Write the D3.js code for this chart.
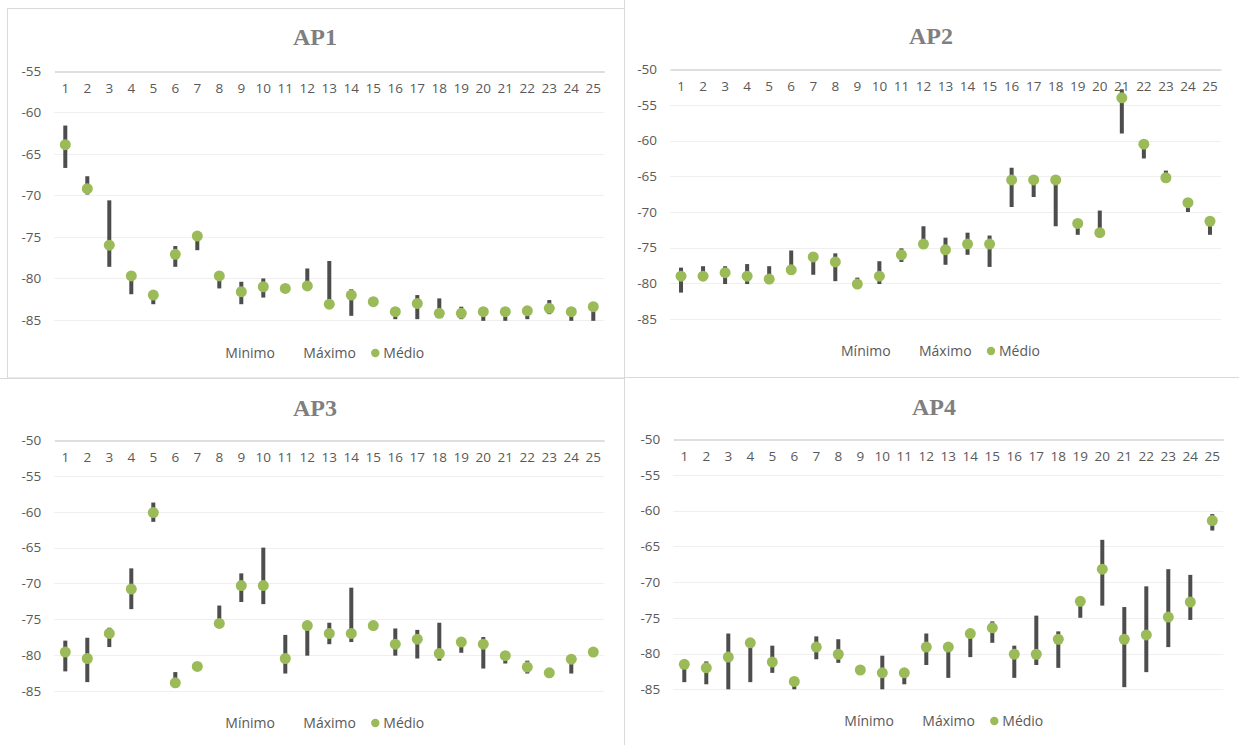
<!DOCTYPE html>
<html>
<head>
<meta charset="utf-8">
<script src="https://cdn.jsdelivr.net/npm/d3@7"></script>
<style>
  html, body { margin: 0; padding: 0; background: #ffffff; }
  svg { display: block; }
  .tick text { font-family: "Open Sans", sans-serif; font-size: 13.5px; fill: #595959; }
  .legend text { font-family: "Open Sans", sans-serif; font-size: 14px; fill: #595959; }
  .title { font-family: "Liberation Serif", serif; font-weight: bold; font-size: 24px; fill: #7f7f7f; }
</style>
</head>
<body>
<svg id="chart" width="1239" height="745"></svg>
<script>
// Access points 1..25 on the horizontal axis
const categories = [1, 2, 3, 4, 5, 6, 7, 8, 9, 10, 11, 12, 13, 14, 15, 16, 17, 18, 19, 20, 21, 22, 23, 24, 25];

// Y tick labels (dBm)
const ticksAP1 = [-55, -60, -65, -70, -75, -80, -85];
const ticksAP = [-50, -55, -60, -65, -70, -75, -80, -85];

// AP1
const ap1Min  = [-66.7, -69.9, -78.6, -81.9, -83.1, -78.6, -76.6, -81.2, -83.1, -82.3, -81.4, -81.1, -83.3, -84.5, -83.0, -84.9, -84.9, -84.4, -84.9, -85.1, -85.1, -84.9, -84.3, -85.1, -85.1];
const ap1Max  = [-61.6, -67.7, -70.6, -79.5, -81.8, -76.1, -75.0, -79.5, -80.4, -80.0, -81.0, -78.8, -77.9, -81.3, -82.6, -83.8, -82.0, -82.4, -83.4, -83.8, -83.8, -83.7, -82.6, -83.8, -83.2];
const ap1Mean = [-63.9, -69.2, -76.0, -79.7, -82.0, -77.1, -74.9, -79.7, -81.6, -81.0, -81.2, -80.9, -83.1, -82.0, -82.8, -84.0, -83.0, -84.2, -84.2, -84.0, -84.0, -83.9, -83.6, -84.0, -83.4];

// AP2
const ap2Min  = [-81.3, -79.3, -80.1, -80.1, -80.1, -78.3, -78.8, -79.7, -80.3, -80.1, -77.0, -74.7, -77.4, -76.0, -77.7, -69.3, -67.9, -72.0, -73.2, -73.1, -59.0, -62.5, -65.4, -70.0, -73.2];
const ap2Max  = [-77.8, -77.6, -77.6, -77.3, -77.6, -75.4, -76.0, -75.8, -79.2, -76.9, -75.1, -72.0, -73.6, -72.9, -73.3, -63.8, -65.3, -65.3, -71.4, -69.8, -52.8, -60.3, -64.2, -68.5, -71.1];
const ap2Mean = [-79.0, -79.0, -78.5, -79.0, -79.4, -78.1, -76.3, -77.0, -80.1, -79.0, -76.0, -74.5, -75.3, -74.5, -74.5, -65.5, -65.5, -65.5, -71.6, -72.9, -54.0, -60.5, -65.2, -68.7, -71.3];

// AP3
const ap3Min  = [-82.3, -83.8, -78.9, -73.6, -61.4, -84.1, -81.8, -75.8, -72.6, -72.9, -82.6, -80.1, -78.5, -78.2, -76.1, -80.1, -80.5, -80.8, -79.7, -81.9, -81.2, -82.6, -82.7, -82.6, -79.8];
const ap3Max  = [-78.0, -77.6, -76.2, -67.9, -58.7, -82.4, -81.4, -73.1, -68.6, -65.0, -77.2, -75.7, -75.5, -70.6, -75.7, -76.3, -76.5, -75.5, -78.0, -77.5, -79.9, -80.8, -82.3, -80.4, -79.4];
const ap3Mean = [-79.6, -80.5, -77.0, -70.8, -60.1, -83.9, -81.6, -75.6, -70.3, -70.3, -80.5, -75.9, -77.0, -77.0, -75.9, -78.5, -77.8, -79.8, -78.2, -78.5, -80.1, -81.7, -82.5, -80.6, -79.6];

// AP4
const ap4Min  = [-84.0, -84.3, -85.0, -84.0, -82.7, -85.0, -80.8, -81.3, -82.5, -85.0, -84.3, -81.6, -83.4, -80.5, -78.5, -83.4, -81.6, -82.0, -75.0, -73.3, -84.7, -82.6, -79.1, -75.3, -62.8];
const ap4Max  = [-81.3, -81.1, -77.2, -78.3, -78.9, -83.7, -77.6, -78.0, -82.1, -80.3, -82.5, -77.2, -78.9, -77.0, -75.5, -78.9, -74.7, -76.9, -72.5, -64.1, -73.5, -70.6, -68.2, -69.0, -60.5];
const ap4Mean = [-81.5, -82.0, -80.5, -78.5, -81.2, -83.9, -79.1, -80.1, -82.3, -82.7, -82.7, -79.1, -79.1, -77.2, -76.4, -80.1, -80.1, -78.0, -72.7, -68.2, -78.0, -77.4, -74.9, -72.8, -61.4];

const panels = [
  { title: "AP1", min: ap1Min, max: ap1Max, mean: ap1Mean, ticks: ticksAP1, minLabel: "Minimo",
    x0: 54.3, x1: 604.3, yTop: 70.7, yBot: 320, titleX: 315, titleY: 45, legendY: 358 },
  { title: "AP2", min: ap2Min, max: ap2Max, mean: ap2Mean, ticks: ticksAP, minLabel: "Mínimo",
    x0: 670, x1: 1221, yTop: 69.3, yBot: 319, titleX: 931, titleY: 43.5, legendY: 356 },
  { title: "AP3", min: ap3Min, max: ap3Max, mean: ap3Mean, ticks: ticksAP, minLabel: "Mínimo",
    x0: 54.3, x1: 604.3, yTop: 440.3, yBot: 690.7, titleX: 315, titleY: 415.5, legendY: 728 },
  { title: "AP4", min: ap4Min, max: ap4Max, mean: ap4Mean, ticks: ticksAP, minLabel: "Mínimo",
    x0: 673.3, x1: 1223.3, yTop: 439, yBot: 689.3, titleX: 934, titleY: 414.5, legendY: 726 }
];

const svg = d3.select("#chart");
const GREEN = "#9bbb59";
const BAR = "#4d4d4d";
const BORDER = "#d9d9d9";

// chart-area borders
const borders = svg.append("g").attr("fill", "none").attr("stroke", BORDER).attr("stroke-width", 1);
borders.append("rect").attr("x", 7.5).attr("y", 8.5).attr("width", 617).attr("height", 369.5);
borders.append("line").attr("x1", 624.5).attr("x2", 624.5).attr("y1", 0).attr("y2", 745);
borders.append("line").attr("x1", 624.5).attr("x2", 1239).attr("y1", 377.5).attr("y2", 377.5);
borders.append("line").attr("x1", 0).attr("x2", 625).attr("y1", 378.5).attr("y2", 378.5);

panels.forEach(p => {
  const g = svg.append("g");
  const yDomainMax = p.ticks[0];
  const yDomainMin = p.ticks[p.ticks.length - 1];

  const x = d3.scaleBand().domain(categories).range([p.x0, p.x1]);
  const y = d3.scaleLinear().domain([yDomainMin, yDomainMax]).range([p.yBot, p.yTop]);
  const cx = d => x(d) + x.bandwidth() / 2;

  // horizontal gridlines
  g.append("g").selectAll("line")
    .data(p.ticks.slice(1))
    .join("line")
    .attr("x1", p.x0).attr("x2", p.x1)
    .attr("y1", d => Math.round(y(d)) + 0.5).attr("y2", d => Math.round(y(d)) + 0.5)
    .attr("stroke", "#efefef").attr("stroke-width", 1);

  // value axis labels (plain hyphen-minus)
  const yAxis = g.append("g")
    .attr("transform", `translate(${p.x0},0)`)
    .call(d3.axisLeft(y).tickValues(p.ticks).tickSize(0).tickPadding(13).tickFormat(d => String(d)));
  yAxis.select(".domain").remove();

  // category axis sits at the top of the value range
  const xAxis = g.append("g")
    .attr("transform", `translate(0,${Math.round(y(yDomainMax)) + 0.5})`)
    .call(d3.axisBottom(x).tickSize(0).tickPadding(12));
  xAxis.select(".domain").attr("stroke", "#bfbfbf").attr("stroke-width", 1);

  // min-max range bars
  g.append("g").selectAll("rect")
    .data(categories)
    .join("rect")
    .attr("x", d => cx(d) - 2)
    .attr("width", 4)
    .attr("y", (d, i) => y(p.max[i]))
    .attr("height", (d, i) => Math.max(0, y(p.min[i]) - y(p.max[i])))
    .attr("fill", BAR);

  // mean markers
  g.append("g").selectAll("circle")
    .data(categories)
    .join("circle")
    .attr("cx", d => cx(d))
    .attr("cy", (d, i) => y(p.mean[i]))
    .attr("r", 5.5)
    .attr("fill", GREEN);

  // title
  g.append("text").attr("class", "title")
    .attr("x", p.titleX).attr("y", p.titleY)
    .attr("text-anchor", "middle")
    .text(p.title);

  // legend
  const lg = g.append("g").attr("class", "legend").attr("transform", `translate(${p.x0},${p.legendY})`);
  lg.append("text").attr("x", 171).attr("y", 0).text(p.minLabel);
  lg.append("text").attr("x", 249).attr("y", 0).text("Máximo");
  lg.append("circle").attr("cx", 321).attr("cy", -5).attr("r", 4.2).attr("fill", GREEN);
  lg.append("text").attr("x", 329).attr("y", 0).text("Médio");
});
</script>
</body>
</html>
